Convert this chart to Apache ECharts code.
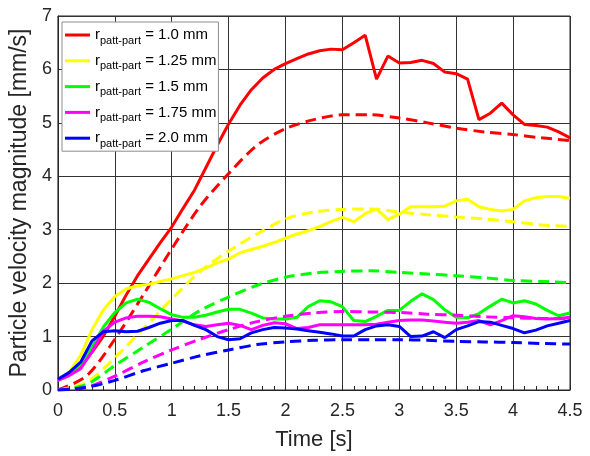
<!DOCTYPE html>
<html>
<head>
<meta charset="utf-8">
<script src="https://cdn.jsdelivr.net/npm/echarts@6/dist/echarts.min.js"></script>
<style>
html,body{margin:0;padding:0;background:#fff;}
#chart{width:590px;height:456px;}
</style>
</head>
<body>
<div id="chart"></div>
<script>
// time samples [s]
const timeSolid = [0,0.1,0.2,0.3,0.4,0.5,0.6,0.7,0.8,0.9,1.0,1.1,1.2,1.3,1.4,1.5,1.6,1.7,1.8,1.9,2.0,2.1,2.2,2.3,2.4,2.5,2.6,2.7,2.8,2.9,3.0,3.1,3.2,3.3,3.4,3.5,3.6,3.7,3.8,3.9,4.0,4.1,4.2,4.3,4.4,4.5];
const timeDashed = [0,0.25,0.5,0.75,1.0,1.25,1.5,1.75,2.0,2.25,2.5,2.75,3.0,3.25,3.5,3.75,4.0,4.25,4.5];

// solid curves (particle velocity magnitude, mm/s)
const solid10  = [0.19,0.28,0.45,0.71,1.01,1.38,1.78,2.14,2.45,2.76,3.05,3.40,3.74,4.16,4.58,4.98,5.33,5.62,5.84,6.00,6.11,6.20,6.29,6.35,6.38,6.37,6.50,6.64,5.82,6.25,6.12,6.13,6.17,6.11,5.95,5.92,5.82,5.06,5.18,5.37,5.15,4.97,4.95,4.92,4.83,4.72];
const solid125 = [0.18,0.33,0.65,1.13,1.50,1.75,1.89,1.95,1.98,2.03,2.08,2.14,2.20,2.28,2.38,2.45,2.57,2.63,2.69,2.76,2.84,2.92,2.98,3.06,3.15,3.23,3.15,3.30,3.39,3.19,3.29,3.43,3.43,3.43,3.44,3.54,3.57,3.43,3.38,3.35,3.38,3.54,3.60,3.62,3.62,3.59];
const solid15  = [0.18,0.30,0.47,0.80,1.18,1.45,1.63,1.70,1.64,1.52,1.41,1.36,1.36,1.40,1.46,1.51,1.51,1.44,1.35,1.33,1.33,1.36,1.56,1.67,1.65,1.56,1.30,1.28,1.38,1.49,1.49,1.66,1.80,1.69,1.50,1.36,1.35,1.43,1.57,1.70,1.63,1.67,1.61,1.49,1.39,1.44];
const solid175 = [0.18,0.27,0.40,0.72,1.10,1.27,1.35,1.38,1.38,1.37,1.33,1.29,1.22,1.19,1.22,1.25,1.21,1.13,1.21,1.26,1.24,1.15,1.17,1.22,1.22,1.22,1.22,1.22,1.23,1.27,1.30,1.31,1.31,1.29,1.27,1.25,1.27,1.30,1.22,1.30,1.39,1.37,1.34,1.33,1.34,1.36];
const solid20  = [0.20,0.33,0.52,0.92,1.09,1.11,1.09,1.10,1.17,1.25,1.30,1.30,1.21,1.13,1.00,0.94,0.96,1.07,1.13,1.17,1.16,1.14,1.11,1.08,1.05,1.01,1.01,1.13,1.20,1.22,1.19,1.00,1.01,1.09,0.98,1.13,1.20,1.28,1.27,1.21,1.15,1.07,1.12,1.20,1.25,1.30];

// dashed curves
const dashed10  = [0,0.26,0.95,1.78,2.64,3.44,4.05,4.58,4.89,5.06,5.15,5.15,5.09,5.00,4.90,4.83,4.78,4.72,4.67];
const dashed125 = [0,0.14,0.60,1.15,1.70,2.22,2.60,2.92,3.20,3.33,3.38,3.39,3.33,3.28,3.24,3.20,3.15,3.09,3.06];
const dashed15  = [0,0.10,0.46,0.80,1.14,1.49,1.74,1.96,2.11,2.19,2.22,2.23,2.20,2.17,2.14,2.10,2.05,2.03,2.01];
const dashed175 = [0,0.05,0.26,0.52,0.75,0.95,1.13,1.28,1.38,1.44,1.47,1.46,1.45,1.42,1.40,1.37,1.35,1.34,1.33];
const dashed20  = [0,0.05,0.18,0.36,0.50,0.64,0.75,0.85,0.90,0.93,0.94,0.94,0.94,0.93,0.91,0.90,0.89,0.87,0.86];

const legendLabels = ['= 1.0 mm','= 1.25 mm','= 1.5 mm','= 1.75 mm','= 2.0 mm'];
const colors = ['#ff0000','#ffff00','#00ff00','#ff00ff','#0000ff'];
const solids = [solid10, solid125, solid15, solid175, solid20];
const dasheds = [dashed10, dashed125, dashed15, dashed175, dashed20];

const FONT = 'Liberation Sans, Arial, Helvetica, sans-serif';

const series = [];
for (let i = 0; i < 5; i++) {
  series.push({
    name: legendLabels[i],
    type: 'line',
    symbol: 'none',
    data: timeSolid.map((t, k) => [t, solids[i][k]]),
    lineStyle: { color: colors[i], width: 3 },
    itemStyle: { color: colors[i] },
    z: 3
  });
  series.push({
    name: legendLabels[i] + ' model',
    type: 'line',
    symbol: 'none',
    smooth: 0.3,
    data: timeDashed.map((t, k) => [t, dasheds[i][k]]),
    lineStyle: { color: colors[i], width: 3, type: [11, 6] },
    itemStyle: { color: colors[i] },
    z: 3
  });
}

const chart = echarts.init(document.getElementById('chart'), null, { renderer: 'canvas' });
chart.setOption({
  animation: false,
  backgroundColor: '#ffffff',
  textStyle: { fontFamily: FONT },
  grid: { left: 54, right: 20, top: 16, bottom: 60, show: true, borderColor: '#262626', borderWidth: 1, backgroundColor: '#fff' },
  legend: {
    data: legendLabels,
    orient: 'vertical',
    left: 62,
    top: 22,
    padding: [2, 2, 2, 3],
    itemGap: 3.8,
    itemWidth: 25,
    itemHeight: 3,
    icon: 'rect',
    backgroundColor: '#ffffff',
    borderColor: '#8c8c8c',
    borderWidth: 1,
    borderRadius: 0,
    z: 10,
    formatter: function (name) {
      return '{r|r}{s|patt-part}{r| ' + name + '}';
    },
    textStyle: {
      fontFamily: FONT,
      fontSize: 15,
      lineHeight: 22,
      width: 120,
      height: 22,
      color: '#000',
      rich: {
        r: { fontSize: 15, lineHeight: 22, verticalAlign: 'middle', fontFamily: FONT, color: '#000' },
        s: { fontSize: 11, lineHeight: 7.4, verticalAlign: 'bottom', fontFamily: FONT, color: '#000' }
      }
    }
  },
  xAxis: {
    type: 'value',
    min: 0, max: 4.5, interval: 0.5,
    name: 'Time [s]',
    nameLocation: 'middle',
    nameGap: 39,
    nameTextStyle: { fontSize: 22, fontFamily: FONT, color: '#262626' },
    axisLine: { show: true, lineStyle: { color: '#262626', width: 1 } },
    axisTick: { show: true, inside: true, length: 5, lineStyle: { color: '#262626' } },
    minorTick: { show: true, splitNumber: 5, length: 4, lineStyle: { color: '#262626' } },
    axisLabel: { fontSize: 18, color: '#262626', margin: 12, fontFamily: FONT,
      formatter: function (v) { return String(v); } },
    splitLine: { show: true, lineStyle: { color: '#333333', width: 1 } }
  },
  yAxis: {
    type: 'value',
    min: 0, max: 7, interval: 1,
    name: 'Particle velocity magnitude [mm/s]',
    nameLocation: 'middle',
    nameGap: 17,
    nameTextStyle: { fontSize: 23, fontFamily: FONT, color: '#262626' },
    axisLine: { show: true, lineStyle: { color: '#262626', width: 1 } },
    axisTick: { show: false },
    axisLabel: { fontSize: 18, color: '#262626', margin: 6, fontFamily: FONT },
    splitLine: { show: true, lineStyle: { color: '#333333', width: 1 } }
  },
  series: series
});
</script>
</body>
</html>
